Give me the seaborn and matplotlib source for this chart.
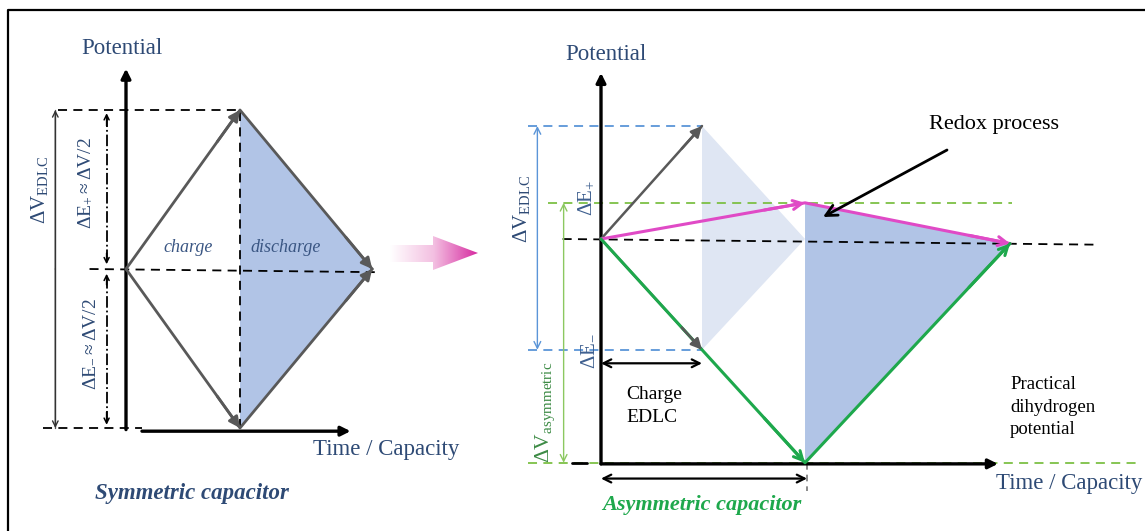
import numpy as np
import pandas as pd
import matplotlib
matplotlib.use("Agg")
import matplotlib.pyplot as plt
import seaborn as sns
from matplotlib.path import Path
from matplotlib.patches import PathPatch
from matplotlib.colors import LinearSegmentedColormap

# ---- symmetric (EDLC) capacitor: potential vs time/capacity ----
sym_time = [0.0, 1.0, 2.16]        # start, end of charge, end of discharge
sym_positive = [0.0, 1.0, 0.0]     # positive electrode
sym_negative = [0.0, -1.0, 0.0]    # negative electrode

# ---- asymmetric capacitor ----
edlc_time = [0.0, 1.0, 2.02]       # EDLC-type electrode (reference, faded)
edlc_positive = [0.0, 1.0, 0.0]
edlc_negative = [0.0, -0.98, 0.0]
asym_time = [0.0, 2.02, 4.05]
asym_positive = [0.0, 0.32, -0.04]   # redox (faradaic) electrode
asym_negative = [0.0, -1.98, -0.04]  # carbon electrode down to H2 evolution

# ---- labels ----
axis_potential = "Potential"
axis_time = "Time / Capacity"
title_sym = "Symmetric capacitor"
title_asym = "Asymmetric capacitor"
lbl_dv_edlc = r"$\Delta\mathrm{V}_{\mathrm{EDLC}}$"
lbl_de_pos_half = r"$\Delta\mathrm{E}_{+}\approx\Delta\mathrm{V}/2$"
lbl_de_neg_half = r"$\Delta\mathrm{E}_{-}\approx\Delta\mathrm{V}/2$"
lbl_de_pos = r"$\Delta\mathrm{E}_{+}$"
lbl_de_neg = r"$\Delta\mathrm{E}_{-}$"
lbl_dv_asym = r"$\Delta\mathrm{V}_{\mathrm{asymmetric}}$"

sns.set_theme(style="white")
plt.rcParams["font.family"] = ["Liberation Serif", "DejaVu Serif"]
plt.rcParams["mathtext.fontset"] = "custom"
plt.rcParams["mathtext.rm"] = "Liberation Serif"
plt.rcParams["mathtext.it"] = "Liberation Serif:italic"
plt.rcParams["mathtext.bf"] = "Liberation Serif:bold"

W, H = 1145, 531
NAVY = "#2E4A75"
GREY = "#595959"
FILL = "#B1C4E6"
FAINT = "#DFE6F3"
MAGENTA = "#E04AC6"
GREEN = "#1EA84C"
LGREEN = "#7DC045"
BLUE = "#5B95D8"

fig = plt.figure(figsize=(W / 100, H / 100), dpi=100)
fig.patch.set_facecolor("white")


def panel_axes(x0, sx, y0, sy):
    """Axes over the whole figure; time origin at pixel x0, potential 0 at pixel y0."""
    ax = fig.add_axes([0, 0, 1, 1])
    ax.set_xlim(-x0 / sx, (W - x0) / sx)
    ax.set_ylim((y0 - H) / sy, y0 / sy)
    ax.axis("off")
    ax.patch.set_alpha(0)
    return ax


def arrow(ax, p0, p1, color, lw=1.0, style="->", ms=12, z=5):
    ax.annotate("", xy=p1, xytext=p0, zorder=z,
                arrowprops=dict(arrowstyle=style, color=color, lw=lw,
                                shrinkA=0, shrinkB=0, mutation_scale=ms))


def heads(ax, t, p, color, lw, style, ms, z=6):
    """Arrowheads at the end of each segment of a polyline."""
    for i in range(len(t) - 1):
        a = np.array([t[i], p[i]])
        b = np.array([t[i + 1], p[i + 1]])
        arrow(ax, a + 0.8 * (b - a), b, color, lw, style, ms, z)


def curves(ax, t, pos, neg, colors, lw):
    df = pd.DataFrame({"time": list(t) * 2, "potential": list(pos) + list(neg),
                       "electrode": ["positive"] * len(t) + ["negative"] * len(t)})
    sns.lineplot(data=df, x="time", y="potential", hue="electrode",
                 palette=colors, units="electrode", estimator=None, sort=False,
                 lw=lw, legend=False, ax=ax, zorder=5)


dash = (0, (5, 3.5))

# ================= symmetric capacitor =================
axL = panel_axes(126, 114, 269, 159)
axL.fill([sym_time[1], sym_time[2], sym_time[1]],
         [sym_positive[1], sym_positive[2], sym_negative[1]], color=FILL, lw=0, zorder=1)
# guide lines
axL.plot([-0.60, sym_time[1]], [sym_positive[1]] * 2, color="black", lw=1.3, ls=dash, zorder=3)
axL.plot([-0.32, sym_time[2] + 0.04], [0, -0.02], color="black", lw=1.3, ls=dash, zorder=3)
axL.plot([-0.73, 0.14], [sym_negative[1]] * 2, color="black", lw=1.3, ls=dash, zorder=3)
axL.plot([sym_time[1]] * 2, [sym_negative[1], sym_positive[1]], color="black", lw=1.3, ls=dash, zorder=3)
# axes
arrow(axL, (0, -1.01), (0, 1.26), "black", lw=2.4, style="-|>", ms=14)
arrow(axL, (0.14, -1.02), (1.97, -1.02), "black", lw=2.4, style="-|>", ms=14)
# potential windows
arrow(axL, (-0.62, 0.0), (-0.62, sym_positive[1]), "#333333", lw=1.0, style="->", ms=10)
arrow(axL, (-0.62, 0.0), (-0.62, sym_negative[1]), "#333333", lw=1.0, style="->", ms=10)
axL.plot([-0.62, -0.62], [sym_negative[1], sym_positive[1]], color="#555555", lw=1.0)
axL.plot([-0.17, -0.17], [0.05, 0.96], color="black", lw=1.3, ls="-.", zorder=3)
axL.plot([-0.17, -0.17], [-0.05, -0.96], color="black", lw=1.3, ls="-.", zorder=3)
for y0, y1 in [(0.9, 0.98), (0.1, 0.03), (-0.1, -0.03), (-0.9, -0.98)]:
    arrow(axL, (-0.17, y0), (-0.17, y1), "black", lw=1.1, style="->", ms=9)
# charge / discharge curves
curves(axL, sym_time, sym_positive, sym_negative, [GREY, GREY], 2.0)
heads(axL, sym_time, sym_positive, GREY, 2.0, "-|>", 16)
heads(axL, sym_time, sym_negative, GREY, 2.0, "-|>", 16)

# ================= asymmetric capacitor =================
axR = panel_axes(601, 101, 239, 113)
axR.fill([edlc_time[1], edlc_time[2], edlc_time[1]],
         [edlc_positive[1], edlc_positive[2], edlc_negative[1]], color=FAINT, lw=0, zorder=1)
axR.fill([asym_time[1], asym_time[2], asym_time[1]],
         [asym_positive[1], asym_positive[2], asym_negative[1]], color=FILL, lw=0, zorder=1)
# guide lines
axR.plot([-0.72, edlc_time[1]], [edlc_positive[1]] * 2, color=BLUE, lw=1.3, ls=dash, zorder=3)
axR.plot([-0.72, edlc_time[1]], [edlc_negative[1]] * 2, color=BLUE, lw=1.3, ls=dash, zorder=3)
axR.plot([-0.52, 4.07], [asym_positive[1]] * 2, color=LGREEN, lw=1.3, ls=dash, zorder=3)
axR.plot([-0.72, 5.3], [asym_negative[1]] * 2, color=LGREEN, lw=1.3, ls=dash, zorder=3)
axR.plot([-0.38, 4.89], [0.0, -0.05], color="black", lw=1.3, ls=dash, zorder=3)
axR.plot([-0.29, -0.14], [asym_negative[1]] * 2, color="black", lw=2.0, zorder=3)
axR.plot([asym_time[1] + 0.02] * 2, [asym_negative[1], -2.23], color="#777777", lw=1.2, ls=(0, (4, 3)), zorder=3)
# axes
arrow(axR, (0, asym_negative[1] - 0.01), (0, 1.47), "black", lw=2.4, style="-|>", ms=14)
arrow(axR, (0, asym_negative[1] - 0.01), (3.93, asym_negative[1] - 0.01), "black", lw=2.4, style="-|>", ms=14)
# potential windows
arrow(axR, (-0.63, edlc_negative[1]), (-0.63, edlc_positive[1]), BLUE, lw=1.0, style="<->", ms=12)
arrow(axR, (-0.37, asym_positive[1]), (-0.37, asym_negative[1]), "#8CC860", lw=1.0, style="<->", ms=12)
# capacity spans
arrow(axR, (0, -1.10), (edlc_time[1], -1.10), "black", lw=1.6, style="<->", ms=14)
arrow(axR, (0, -2.12), (asym_time[1] + 0.02, -2.12), "black", lw=1.6, style="<->", ms=14)
# EDLC electrodes (faded reference) then asymmetric electrodes
curves(axR, edlc_time[:2], edlc_positive[:2], edlc_negative[:2], [GREY, GREY], 1.8)
heads(axR, edlc_time[:2], edlc_positive[:2], GREY, 1.8, "-|>", 16)
heads(axR, edlc_time[:2], edlc_negative[:2], GREY, 1.8, "-|>", 16)
curves(axR, asym_time, asym_positive, asym_negative, [MAGENTA, GREEN], 2.2)
heads(axR, asym_time, asym_positive, MAGENTA, 2.2, "->", 16, z=7)
heads(axR, asym_time, asym_negative, GREEN, 2.2, "->", 16, z=7)

# ================= annotation layer =================
axO = fig.add_axes([0, 0, 1, 1])
axO.set_xlim(0, W)
axO.set_ylim(H, 0)
axO.axis("off")
axO.patch.set_alpha(0)

# frame
axO.plot([8, 8, W], [H, 10, 10], color="black", lw=1.6)

# gradient arrow between panels
verts = [(390, 245), (433, 245), (433, 236), (478, 253), (433, 270), (433, 262), (390, 262), (390, 245)]
shape = PathPatch(Path(verts), transform=axO.transData, facecolor="none", edgecolor="none")
axO.add_patch(shape)
pink = LinearSegmentedColormap.from_list("pink", ["#FFFFFF", "#F3BFE1", "#D62AA0"])
im = axO.imshow(np.linspace(0, 1, 256).reshape(1, -1), extent=(390, 478, 270, 236),
                cmap=pink, aspect="auto", interpolation="bilinear")
im.set_clip_path(shape)
axO.set_xlim(0, W)
axO.set_ylim(H, 0)

# redox pointer
axO.annotate("", xy=(823, 217), xytext=(947, 150),
             arrowprops=dict(arrowstyle="->", color="black", lw=2.0,
                             shrinkA=0, shrinkB=0, mutation_scale=20))

# texts
axO.text(122, 48, axis_potential, color=NAVY, fontsize=16.5, ha="center", va="center")
axO.text(606, 54, axis_potential, color=NAVY, fontsize=16.5, ha="center", va="center")
axO.text(386, 450, axis_time, color=NAVY, fontsize=16.5, ha="center", va="center")
axO.text(1069, 484, axis_time, color=NAVY, fontsize=16.5, ha="center", va="center")
axO.text(192, 493, title_sym, color=NAVY, fontsize=16.5, fontweight="bold", fontstyle="italic",
         ha="center", va="center")
axO.text(702, 505, title_asym, color=GREEN, fontsize=16, fontweight="bold", fontstyle="italic",
         ha="center", va="center")
axO.text(188, 247, "charge", color="#3A5683", fontsize=13, fontstyle="italic", ha="center", va="center")
axO.text(286, 247, "discharge", color="#3A5683", fontsize=13, fontstyle="italic", ha="center", va="center")
axO.text(994, 125, "Redox process", color="black", fontsize=16, ha="center", va="center")
axO.text(626, 406, "Charge\nEDLC", color="black", fontsize=14, ha="left", va="center", linespacing=1.4)
axO.text(1010, 407, "Practical\ndihydrogen\npotential", color="black", fontsize=13.5,
         ha="left", va="center", linespacing=1.4)

axO.text(40, 190, lbl_dv_edlc, color=NAVY, fontsize=15, rotation=90, ha="center", va="center")
axO.text(86, 183, lbl_de_pos_half, color=NAVY, fontsize=14, rotation=90, ha="center", va="center")
axO.text(89, 344, lbl_de_neg_half, color=NAVY, fontsize=14, rotation=90, ha="center", va="center")
axO.text(522, 209, lbl_dv_edlc, color=NAVY, fontsize=15, rotation=90, ha="center", va="center")
axO.text(587, 198, lbl_de_pos, color="#3E5F8F", fontsize=15, rotation=90, ha="center", va="center")
axO.text(587, 351, lbl_de_neg, color="#3E5F8F", fontsize=15, rotation=90, ha="center", va="center")
axO.text(545, 412, lbl_dv_asym, color="#3D8B45", fontsize=15.5, rotation=90, ha="center", va="center")

fig.savefig("out.png", dpi=100, facecolor="white")
